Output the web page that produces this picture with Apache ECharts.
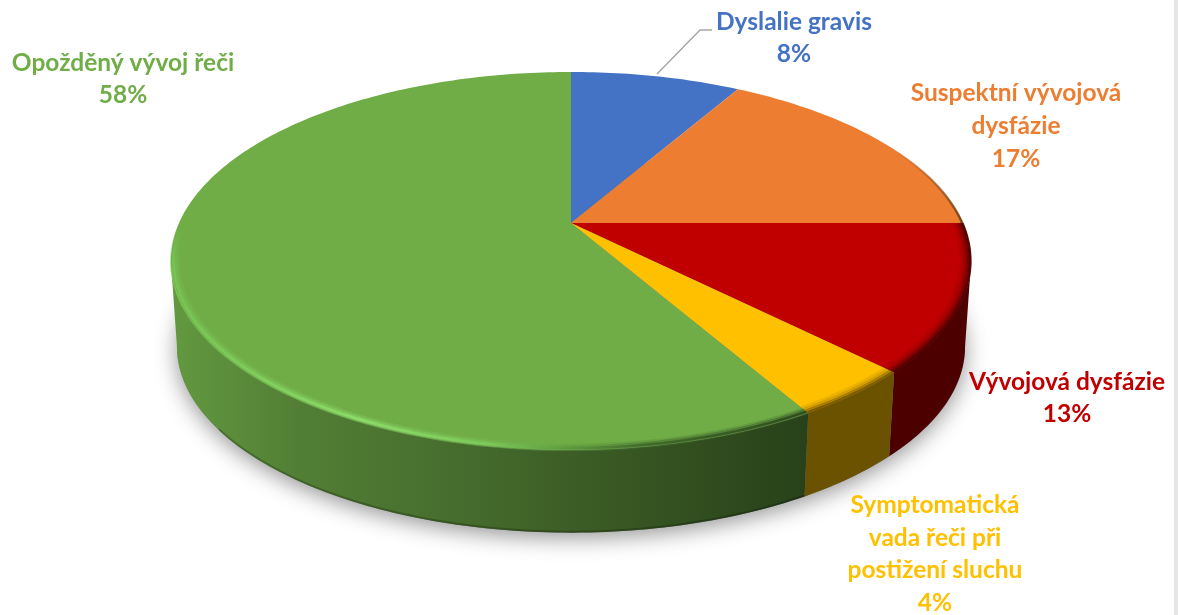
<!DOCTYPE html>
<html><head><meta charset="utf-8">
<style>html,body{margin:0;padding:0;background:#fff}#c{width:1178px;height:615px}</style>
<script src="https://cdn.jsdelivr.net/npm/echarts@6/dist/echarts.min.js"></script>
</head><body><div id="c"></div>
<script>
const categories = ['Dyslalie gravis','Suspektní vývojová\ndysfázie','Vývojová dysfázie','Symptomatická\nvada řeči při\npostižení sluchu','Opožděný vývoj řeči'];
const values = [8.33,16.67,12.5,4.17,58.33];
const topColors = ['#4472c4','#ed7d31','#c00000','#ffc000','#70ad47'];
const wallColors = ['#27427a','#7a4018','#4d0000','#6b5200','#3f6a2a'];
const labelPos = [[794,38],[1016,126],[1067,398],[935,554],[123,79]];

const G = {cx:571, cy:223, A:181.4, B:392, k:0.201, cy2:309, A2:178.7, B2:386};
const total = values.reduce((a,b)=>a+b,0);
const starts = []; values.reduce((acc,v,i)=>{starts[i]=acc/total*360; return acc+v;},0);
const rad = d=>d*Math.PI/180;
const silR = Math.acos(-G.k)*180/Math.PI, silL = 360-silR;
function topPt(th,r=1){const u=Math.sin(rad(th))*r,v=Math.cos(rad(th))*r,d=1+G.k*v;return [G.cx+G.B*u/d,G.cy-G.A*v/d];}
function botPt(th){const u=Math.sin(rad(th)),v=Math.cos(rad(th)),d=1+G.k*v;return [G.cx+G.B2*u/d,G.cy2-G.A2*v/d];}
function arc(fn,a,b,r){const n=Math.max(2,Math.ceil(Math.abs(b-a)));const p=[];for(let i=0;i<=n;i++)p.push(fn(a+(b-a)*i/n,r));return p;}
const LG=(x,y,x2,y2,stops)=>new echarts.graphic.LinearGradient(x,y,x2,y2,stops.map(s=>({offset:s[0],color:s[1]})),true);
const empty={type:'group',children:[]};

const greenWall = LG(168,0,805,0,[[0,'#639a40'],[0.2,'#527f35'],[0.5,'#44692c'],[0.68,'#3a5a24'],[1,'#28411a']]);
function segs(i){return [starts[i],i+1<values.length?starts[i+1]:360];}

function rShadow(p){ if(p.dataIndex) return empty;
  return {type:'polygon',shape:{points:arc(botPt,0,360)},style:{fill:'#888',shadowBlur:22,shadowColor:'rgba(0,0,0,0.42)',shadowOffsetY:5}};}
function rWall(p){const i=p.dataIndex;let [a,b]=segs(i);
  a=Math.max(a,silR);b=Math.min(b,silL);
  if(b<=a) return empty;
  const pts=arc(topPt,a,b,1).concat(arc(botPt,b,a));
  return {type:'polygon',shape:{points:pts},style:{fill:i===4?greenWall:wallColors[i]}};}
function rLip(p){const i=p.dataIndex;let [a,b]=segs(i);
  a=Math.max(a,silR);b=Math.min(b,silL-25);
  if(b<=a||i!==4) return empty;
  return {type:'polyline',shape:{points:arc((t)=>{const q=botPt(t);return [q[0],q[1]-1];},a,b)},style:{fill:null,stroke:'rgba(0,0,0,0.22)',lineWidth:2}};}
function rTop(p){const i=p.dataIndex,[a,b]=segs(i);
  return {type:'polygon',shape:{points:[[G.cx,G.cy]].concat(arc(topPt,a,b,1))},style:{fill:topColors[i]}};}
function rRim(p){const i=p.dataIndex,[a,b]=segs(i);const ch=[];
  const layer=(s,e,r,stroke,w)=>ch.push({type:'polyline',shape:{points:arc(topPt,s,e,r)},style:{fill:null,stroke,lineWidth:w}});
  if(i===4){
    const grad=LG(168,0,805,0,[[0,'#76c552'],[0.3,'#8cdc69'],[0.5,'#7ccb5a'],[0.62,'#5f9c3f'],[0.75,'#416a2b'],[1,'#2f4d1e']]);
    const fade=LG(0,228,0,265,[[0,'rgba(118,197,82,0)'],[1,'#76c552']]);
    const splitT=250;
    [[0.9985,3,0.5],[0.993,2.5,1],[0.987,2.5,0.5],[0.981,2.5,0.2]].forEach(([r,w,o])=>{
      ch.push({type:'polyline',shape:{points:arc(topPt,a,splitT,r)},style:{fill:null,stroke:grad,lineWidth:w,opacity:o}});
      ch.push({type:'polyline',shape:{points:arc(topPt,splitT,282,r)},style:{fill:null,stroke:fade,lineWidth:w,opacity:o}});
    });
  } else if(i===1){
    layer(60,b,0.998,LG(0,150,0,220,[[0,'rgba(90,50,10,0)'],[1,'rgba(90,50,10,0.75)']]),2.5);
  } else if(i>1){
    const dark=i===2?'rgba(70,0,0,':'rgba(110,80,0,';
    [[0.9975,3,0.85],[0.991,3,0.55],[0.984,3,0.28],[0.976,3,0.12]].forEach(([r,w,o])=>{
      layer(a,b,r,dark+o+')',w);
    });
  }
  return {type:'group',children:ch};}
function rLabel(p){const i=p.dataIndex;
  return {type:'text',style:{text:categories[i]+'\n'+Math.round(values[i])+'%',x:labelPos[i][0],y:labelPos[i][1],
    fill:topColors[i],fontFamily:'Lato',fontWeight:'bold',fontSize:24.5,lineHeight:32.6,align:'center',verticalAlign:'middle'}};}

const base={type:'custom',coordinateSystem:'none',silent:true,animation:false,data:values,clip:false};
const chart=echarts.init(document.getElementById('c'),null,{renderer:'canvas'});
chart.setOption({backgroundColor:'#fff',animation:false,
  series:[rShadow,rWall,rLip,rTop,rRim,rLabel].map((r,i)=>Object.assign({},base,{renderItem:r,z:i+1})),
  graphic:{elements:[
    {type:'polyline',z:20,silent:true,shape:{points:[[657,74],[700,30],[712,30]]},style:{fill:null,stroke:'#a6a6a6',lineWidth:1.4}},
    {type:'rect',z:20,silent:true,shape:{x:1174,y:0,width:4,height:615},style:{fill:'#e6e6e6'}}
  ]}
});
</script></body></html>
